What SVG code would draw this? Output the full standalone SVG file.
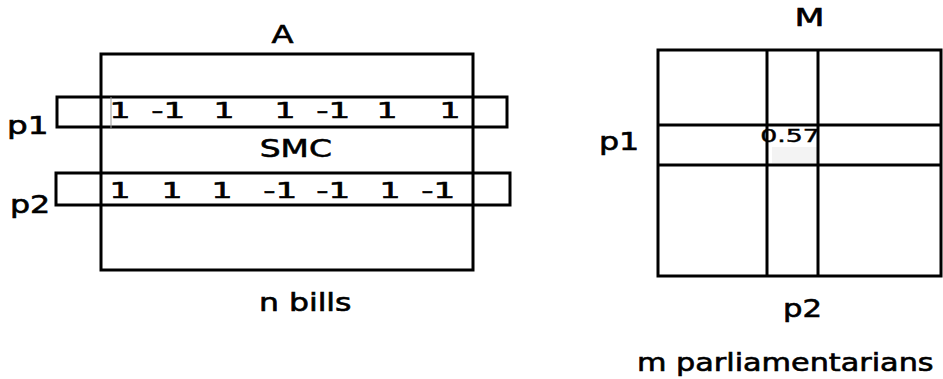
<svg xmlns="http://www.w3.org/2000/svg" width="943" height="379" viewBox="0 0 943 379">
<style>
.box{fill:none;stroke:#000;stroke-width:3}
.t{font-family:"DejaVu Sans",sans-serif;font-size:24px;fill:#000;stroke:#000;stroke-width:0.6}
.n{font-family:"DejaVu Sans",sans-serif;font-size:22px;fill:#000;stroke:#000;stroke-width:0.6}
.s{font-family:"DejaVu Sans",sans-serif;font-size:17px;fill:#000;stroke:#000;stroke-width:0.4}
</style>
<rect width="943" height="379" fill="#fff"/>
<g id="matrixA">
<rect class="box" x="101" y="54" width="372" height="216"/>
<text class="t" x="271.5" y="43" textLength="22" lengthAdjust="spacingAndGlyphs">A</text>
<text class="t" x="259.8" y="157" textLength="72" lengthAdjust="spacingAndGlyphs">SMC</text>
<text class="t" x="259" y="311" textLength="92.5" lengthAdjust="spacingAndGlyphs">n bills</text>
</g>
<g id="rowP1">
<rect class="box" x="57" y="97" width="450" height="30"/>
<line x1="111" y1="97" x2="111" y2="128" stroke="#999" stroke-width="1"/>
<text class="t" x="7" y="134" textLength="41.5" lengthAdjust="spacingAndGlyphs">p1</text>
<text class="n" x="109.4" y="118" textLength="21" lengthAdjust="spacingAndGlyphs">1</text>
<text class="n" x="151.3" y="118" textLength="34" lengthAdjust="spacingAndGlyphs">-1</text>
<text class="n" x="213.4" y="118" textLength="21" lengthAdjust="spacingAndGlyphs">1</text>
<text class="n" x="274.4" y="118" textLength="21" lengthAdjust="spacingAndGlyphs">1</text>
<text class="n" x="316.3" y="118" textLength="34" lengthAdjust="spacingAndGlyphs">-1</text>
<text class="n" x="376.4" y="118" textLength="21" lengthAdjust="spacingAndGlyphs">1</text>
<text class="n" x="439.4" y="118" textLength="21" lengthAdjust="spacingAndGlyphs">1</text>
</g>
<g id="rowP2">
<rect class="box" x="56" y="173" width="454" height="32"/>
<text class="t" x="10" y="213" textLength="40.2" lengthAdjust="spacingAndGlyphs">p2</text>
<text class="n" x="109.4" y="198" textLength="21" lengthAdjust="spacingAndGlyphs">1</text>
<text class="n" x="161.4" y="198" textLength="21" lengthAdjust="spacingAndGlyphs">1</text>
<text class="n" x="211.4" y="198" textLength="21" lengthAdjust="spacingAndGlyphs">1</text>
<text class="n" x="263.3" y="198" textLength="34" lengthAdjust="spacingAndGlyphs">-1</text>
<text class="n" x="316.3" y="198" textLength="34" lengthAdjust="spacingAndGlyphs">-1</text>
<text class="n" x="379.4" y="198" textLength="21" lengthAdjust="spacingAndGlyphs">1</text>
<text class="n" x="421.3" y="198" textLength="34" lengthAdjust="spacingAndGlyphs">-1</text>
</g>
<g id="matrixM">
<rect x="772" y="147" width="45" height="16" fill="#f3f3f3"/>
<rect class="box" x="658" y="50" width="283" height="226"/>
<text class="t" x="794.6" y="26" textLength="30" lengthAdjust="spacingAndGlyphs">M</text>
<text class="t" x="599" y="150" textLength="40.3" lengthAdjust="spacingAndGlyphs">p1</text>
<text class="t" x="783" y="317" textLength="39" lengthAdjust="spacingAndGlyphs">p2</text>
<text class="t" x="637" y="371" textLength="296.6" lengthAdjust="spacingAndGlyphs">m parliamentarians</text>
</g>
<g id="connectors">
<line class="box" x1="767" y1="50" x2="767" y2="276"/>
<line class="box" x1="818" y1="50" x2="818" y2="276"/>
<line class="box" x1="658" y1="125" x2="941" y2="125"/>
<line class="box" x1="658" y1="165" x2="941" y2="165"/>
</g>
<g id="cell">
<text class="s" x="760.2" y="142" textLength="59.7" lengthAdjust="spacingAndGlyphs">0.57</text>
</g>
</svg>
